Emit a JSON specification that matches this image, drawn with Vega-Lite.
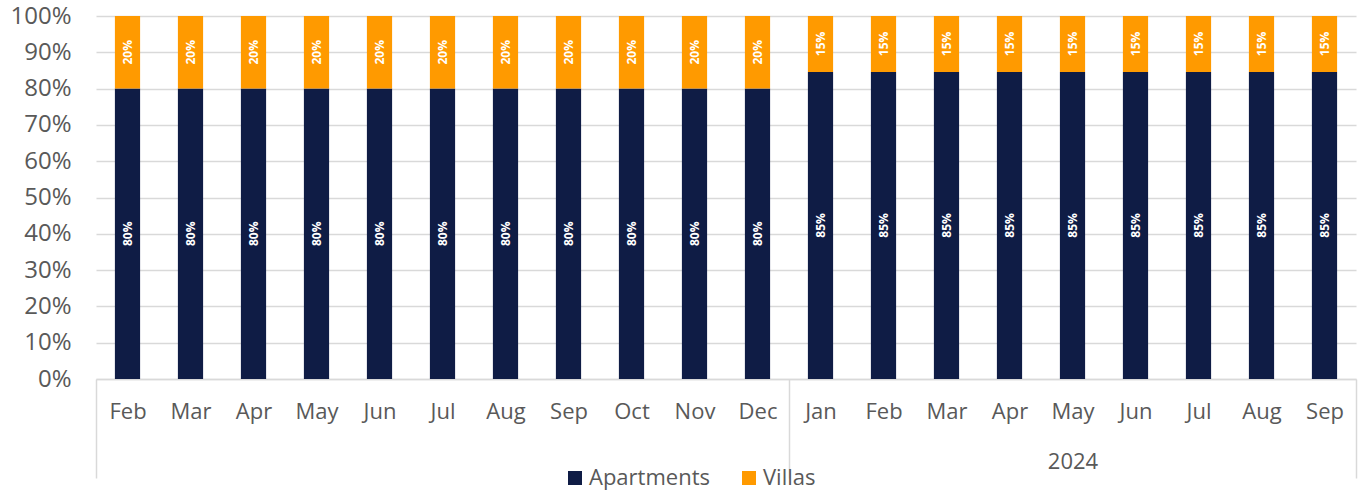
{
  "$schema": "https://vega.github.io/schema/vega-lite/v6.json",
  "width": 1260,
  "height": 363,
  "autosize": {"type": "none"},
  "padding": {"left": 96, "top": 16, "right": 6, "bottom": 114},
  "config": {"view": {"stroke": null}, "font": "Open Sans"},
  "data": {"values": [
    {"period": "Feb 2023", "type": "Apartments", "share": 0.8}, {"period": "Feb 2023", "type": "Villas", "share": 0.2},
    {"period": "Mar 2023", "type": "Apartments", "share": 0.8}, {"period": "Mar 2023", "type": "Villas", "share": 0.2},
    {"period": "Apr 2023", "type": "Apartments", "share": 0.8}, {"period": "Apr 2023", "type": "Villas", "share": 0.2},
    {"period": "May 2023", "type": "Apartments", "share": 0.8}, {"period": "May 2023", "type": "Villas", "share": 0.2},
    {"period": "Jun 2023", "type": "Apartments", "share": 0.8}, {"period": "Jun 2023", "type": "Villas", "share": 0.2},
    {"period": "Jul 2023", "type": "Apartments", "share": 0.8}, {"period": "Jul 2023", "type": "Villas", "share": 0.2},
    {"period": "Aug 2023", "type": "Apartments", "share": 0.8}, {"period": "Aug 2023", "type": "Villas", "share": 0.2},
    {"period": "Sep 2023", "type": "Apartments", "share": 0.8}, {"period": "Sep 2023", "type": "Villas", "share": 0.2},
    {"period": "Oct 2023", "type": "Apartments", "share": 0.8}, {"period": "Oct 2023", "type": "Villas", "share": 0.2},
    {"period": "Nov 2023", "type": "Apartments", "share": 0.8}, {"period": "Nov 2023", "type": "Villas", "share": 0.2},
    {"period": "Dec 2023", "type": "Apartments", "share": 0.8}, {"period": "Dec 2023", "type": "Villas", "share": 0.2},
    {"period": "Jan 2024", "type": "Apartments", "share": 0.846}, {"period": "Jan 2024", "type": "Villas", "share": 0.154},
    {"period": "Feb 2024", "type": "Apartments", "share": 0.846}, {"period": "Feb 2024", "type": "Villas", "share": 0.154},
    {"period": "Mar 2024", "type": "Apartments", "share": 0.846}, {"period": "Mar 2024", "type": "Villas", "share": 0.154},
    {"period": "Apr 2024", "type": "Apartments", "share": 0.846}, {"period": "Apr 2024", "type": "Villas", "share": 0.154},
    {"period": "May 2024", "type": "Apartments", "share": 0.846}, {"period": "May 2024", "type": "Villas", "share": 0.154},
    {"period": "Jun 2024", "type": "Apartments", "share": 0.846}, {"period": "Jun 2024", "type": "Villas", "share": 0.154},
    {"period": "Jul 2024", "type": "Apartments", "share": 0.846}, {"period": "Jul 2024", "type": "Villas", "share": 0.154},
    {"period": "Aug 2024", "type": "Apartments", "share": 0.846}, {"period": "Aug 2024", "type": "Villas", "share": 0.154},
    {"period": "Sep 2024", "type": "Apartments", "share": 0.846}, {"period": "Sep 2024", "type": "Villas", "share": 0.154}
  ]},
  "layer": [
    {
      "mark": {"type": "bar", "width": {"band": 0.4}},
      "encoding": {
        "x": {
          "field": "period", "type": "ordinal",
          "sort": ["Feb 2023","Mar 2023","Apr 2023","May 2023","Jun 2023","Jul 2023","Aug 2023","Sep 2023","Oct 2023","Nov 2023","Dec 2023","Jan 2024","Feb 2024","Mar 2024","Apr 2024","May 2024","Jun 2024","Jul 2024","Aug 2024","Sep 2024"],
          "scale": {"paddingInner": 0, "paddingOuter": 0},
          "axis": {
            "title": null,
            "labelAngle": 0,
            "labelOverlap": false,
            "labelFontSize": 22,
            "labelColor": "#595959",
            "labelLineHeight": 50,
            "labelPadding": -77,
            "labelExpr": "datum.label == 'May 2024' ? ['May', '2024'] : slice(datum.label, 0, 3)",
            "domainColor": "#d9d9d9",
            "domainWidth": 1.5,
            "tickBand": "extent",
            "tickSize": 99,
            "tickColor": "#d9d9d9",
            "tickWidth": 1.5,
            "tickOpacity": {"condition": {"test": "datum.extra || datum.index === 1 || datum.value === 'Dec 2023'", "value": 1}, "value": 0}
          }
        },
        "y": {
          "field": "share", "type": "quantitative", "stack": "zero",
          "scale": {"domain": [0, 1], "nice": false},
          "axis": {
            "title": null,
            "values": [0, 0.1, 0.2, 0.3, 0.4, 0.5, 0.6, 0.7, 0.8, 0.9, 1],
            "tickCount": 11,
            "format": ".0%",
            "labelOverlap": false,
            "labelFontSize": 24,
            "labelColor": "#595959",
            "labelPadding": 25,
            "ticks": false,
            "domain": false,
            "gridColor": "#d9d9d9",
            "gridWidth": 1.4
          }
        },
        "color": {
          "field": "type", "type": "nominal",
          "scale": {"domain": ["Apartments", "Villas"], "range": ["#0F1C45", "#FF9A00"]},
          "legend": {
            "title": null,
            "orient": "none",
            "direction": "horizontal",
            "legendX": 468,
            "legendY": 451,
            "padding": 0,
            "symbolType": "square",
            "symbolSize": 196,
            "symbolStrokeWidth": 0,
            "labelFontSize": 22,
            "labelColor": "#595959",
            "labelOffset": 3,
            "columnPadding": 28
          }
        },
        "order": {"field": "type", "sort": "ascending"}
      }
    },
    {
      "transform": [
        {"stack": "share", "groupby": ["period"], "sort": [{"field": "type", "order": "ascending"}], "as": ["lo", "hi"]},
        {"fold": ["lo", "hi"], "as": ["edge", "pos"]}
      ],
      "mark": {"type": "text", "angle": 270, "color": "white", "fontWeight": "bold", "fontSize": 12, "align": "center", "baseline": "middle"},
      "encoding": {
        "x": {
          "field": "period", "type": "ordinal",
          "sort": ["Feb 2023","Mar 2023","Apr 2023","May 2023","Jun 2023","Jul 2023","Aug 2023","Sep 2023","Oct 2023","Nov 2023","Dec 2023","Jan 2024","Feb 2024","Mar 2024","Apr 2024","May 2024","Jun 2024","Jul 2024","Aug 2024","Sep 2024"]
        },
        "y": {
          "aggregate": "mean", "field": "pos", "type": "quantitative",
          "axis": {
            "title": null,
            "values": [0, 0.1, 0.2, 0.3, 0.4, 0.5, 0.6, 0.7, 0.8, 0.9, 1],
            "tickCount": 11,
            "format": ".0%",
            "labelOverlap": false,
            "labelFontSize": 24,
            "labelColor": "#595959",
            "labelPadding": 25,
            "ticks": false,
            "domain": false,
            "gridColor": "#d9d9d9",
            "gridWidth": 1.4
          }
        },
        "detail": {"field": "type", "type": "nominal"},
        "text": {"field": "share", "type": "quantitative", "format": ".0%"}
      }
    }
  ]
}
